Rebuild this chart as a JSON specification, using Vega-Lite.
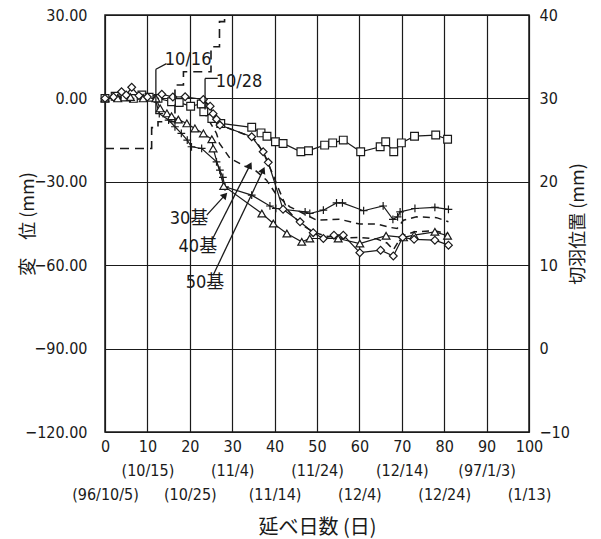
{
  "$schema": "https://vega.github.io/schema/vega-lite/v6.json",
  "width": 424,
  "height": 417,
  "autosize": {"type": "none"},
  "padding": {"left": 105, "top": 15, "right": 72, "bottom": 107},
  "background": "white",
  "config": {
    "view": {"stroke": "#1a1a1a", "strokeWidth": 1.5},
    "axis": {
      "labelFont": "DejaVu Sans Condensed, sans-serif",
      "labelFontSize": 16,
      "labelColor": "#1a1a1a",
      "titleColor": "#1a1a1a",
      "titleFont": "Noto Sans CJK JP",
      "titleFontWeight": "normal",
      "domain": false,
      "ticks": false,
      "gridColor": "#1a1a1a",
      "gridOpacity": 1,
      "gridWidth": 1.2
    }
  },
  "datasets": {
    "meas": [
      {"series":"S","day":0,"value":0},{"series":"S","day":2.4,"value":0.8},{"series":"S","day":4.7,"value":0.5},{"series":"S","day":6.7,"value":0},{"series":"S","day":8.7,"value":1.2},{"series":"S","day":10.4,"value":0.4},{"series":"S","day":12.5,"value":0},{"series":"S","day":15.7,"value":-1.2},{"series":"S","day":17.5,"value":-1.5},{"series":"S","day":20.2,"value":-2.8},{"series":"S","day":22.7,"value":-2},{"series":"S","day":23.3,"value":-4.8},{"series":"S","day":25.2,"value":-7.2},{"series":"S","day":27.3,"value":-9},{"series":"S","day":34.6,"value":-10.4},{"series":"S","day":36.8,"value":-12.4},{"series":"S","day":38.2,"value":-13.6},{"series":"S","day":40.2,"value":-15.6},{"series":"S","day":42,"value":-16.2},{"series":"S","day":46.2,"value":-19.2},{"series":"S","day":48,"value":-18.8},{"series":"S","day":51.8,"value":-16.8},{"series":"S","day":53.7,"value":-16},{"series":"S","day":56.2,"value":-15},{"series":"S","day":60.3,"value":-19.2},{"series":"S","day":64.9,"value":-17.4},{"series":"S","day":66.2,"value":-15.6},{"series":"S","day":68.1,"value":-19.2},{"series":"S","day":69.9,"value":-16},{"series":"S","day":73,"value":-13.6},{"series":"S","day":78,"value":-13.2},{"series":"S","day":80.8,"value":-14.7},
      {"series":"P","day":0,"value":0},{"series":"P","day":3,"value":0.3},{"series":"P","day":6,"value":0},{"series":"P","day":9,"value":0.3},{"series":"P","day":11.8,"value":0},{"series":"P","day":12.8,"value":-5.5},{"series":"P","day":15,"value":-7.8},{"series":"P","day":16.5,"value":-10.2},{"series":"P","day":18,"value":-12.6},{"series":"P","day":19.4,"value":-15},{"series":"P","day":20.4,"value":-17.4},{"series":"P","day":22.8,"value":-18},{"series":"P","day":26.3,"value":-22.8},{"series":"P","day":27.1,"value":-25.8},{"series":"P","day":27.8,"value":-28.4},{"series":"P","day":28.3,"value":-31.8},{"series":"P","day":34.6,"value":-34.8},{"series":"P","day":38.9,"value":-38.7},{"series":"P","day":40.3,"value":-39.6},{"series":"P","day":47.2,"value":-40.8},{"series":"P","day":48.3,"value":-41.4},{"series":"P","day":51.5,"value":-40.2},{"series":"P","day":54.6,"value":-37.6},{"series":"P","day":56,"value":-37.6},{"series":"P","day":61,"value":-40.4},{"series":"P","day":65.6,"value":-38.7},{"series":"P","day":67.9,"value":-43.5},{"series":"P","day":69,"value":-42.6},{"series":"P","day":69.6,"value":-40.8},{"series":"P","day":73.1,"value":-39.6},{"series":"P","day":77.8,"value":-39.2},{"series":"P","day":81,"value":-39.9},
      {"series":"T","day":0,"value":0},{"series":"T","day":3,"value":0},{"series":"T","day":6,"value":0.5},{"series":"T","day":9,"value":0},{"series":"T","day":12,"value":0},{"series":"T","day":13,"value":-3.6},{"series":"T","day":14.6,"value":-5.4},{"series":"T","day":15.7,"value":-6.4},{"series":"T","day":17.3,"value":-7.6},{"series":"T","day":19.3,"value":-9},{"series":"T","day":21.2,"value":-10.8},{"series":"T","day":23.2,"value":-12.6},{"series":"T","day":25.2,"value":-14.7},{"series":"T","day":25.5,"value":-18},{"series":"T","day":28,"value":-31.5},{"series":"T","day":37,"value":-41.4},{"series":"T","day":39.7,"value":-45},{"series":"T","day":42.9,"value":-48.6},{"series":"T","day":46.4,"value":-51.6},{"series":"T","day":48.3,"value":-50.4},{"series":"T","day":55,"value":-50.4},{"series":"T","day":60.1,"value":-52.2},{"series":"T","day":66.3,"value":-49.4},{"series":"T","day":70.4,"value":-50},{"series":"T","day":72.9,"value":-49.2},{"series":"T","day":77.8,"value":-48},{"series":"T","day":80.8,"value":-49.4},
      {"series":"D","day":0,"value":0},{"series":"D","day":2,"value":0.5},{"series":"D","day":3.9,"value":2.4},{"series":"D","day":5,"value":1.2},{"series":"D","day":6.3,"value":4},{"series":"D","day":8,"value":1},{"series":"D","day":10,"value":0.5},{"series":"D","day":13.4,"value":1.5},{"series":"D","day":16,"value":0.5},{"series":"D","day":18.9,"value":0.6},{"series":"D","day":23.2,"value":-0.4},{"series":"D","day":24.8,"value":-2.8},{"series":"D","day":25.5,"value":-5.5},{"series":"D","day":26.3,"value":-7.5},{"series":"D","day":27.1,"value":-9.6},{"series":"D","day":34.6,"value":-13.8},{"series":"D","day":37.3,"value":-19.2},{"series":"D","day":38.5,"value":-23},{"series":"D","day":42,"value":-39.9},{"series":"D","day":46,"value":-44.4},{"series":"D","day":49.1,"value":-48.3},{"series":"D","day":51.5,"value":-50.4},{"series":"D","day":54,"value":-49.2},{"series":"D","day":56.2,"value":-49.2},{"series":"D","day":60.1,"value":-55.5},{"series":"D","day":65,"value":-54.6},{"series":"D","day":68,"value":-56.7},{"series":"D","day":70.2,"value":-50},{"series":"D","day":72.9,"value":-50.7},{"series":"D","day":77.8,"value":-51},{"series":"D","day":81,"value":-52.8},
      {"series":"D1","day":22.5,"value":0},{"series":"D1","day":23.4,"value":-5},{"series":"D1","day":26.3,"value":-12.6},{"series":"D1","day":27,"value":-16.2},{"series":"D1","day":29.5,"value":-21.6},{"series":"D1","day":33,"value":-24.4},{"series":"D1","day":35.4,"value":-25.8},{"series":"D1","day":38.1,"value":-29.4},{"series":"D1","day":40.5,"value":-34.8},{"series":"D1","day":43.6,"value":-39},{"series":"D1","day":46.8,"value":-41.4},{"series":"D1","day":49.9,"value":-43.8},{"series":"D1","day":55.4,"value":-43.5},{"series":"D1","day":60.1,"value":-45.2},{"series":"D1","day":64.1,"value":-45.2},{"series":"D1","day":67.2,"value":-46.4},{"series":"D1","day":68.9,"value":-46.8},{"series":"D1","day":70.4,"value":-43.8},{"series":"D1","day":73.5,"value":-42.6},{"series":"D1","day":78.2,"value":-42.9},{"series":"D1","day":81,"value":-44.4},
      {"series":"D2","day":23.6,"value":-1},{"series":"D2","day":27,"value":-9.5},{"series":"D2","day":33,"value":-13},{"series":"D2","day":35.5,"value":-15},{"series":"D2","day":37.5,"value":-20},{"series":"D2","day":39.5,"value":-27},{"series":"D2","day":40.8,"value":-32},{"series":"D2","day":43,"value":-40},{"series":"D2","day":46,"value":-45},{"series":"D2","day":49,"value":-48},{"series":"D2","day":52,"value":-49.5},{"series":"D2","day":56,"value":-50.3},{"series":"D2","day":60,"value":-50},{"series":"D2","day":64,"value":-50.5},{"series":"D2","day":66.5,"value":-52},{"series":"D2","day":68,"value":-54.5},{"series":"D2","day":70,"value":-49.5},{"series":"D2","day":73,"value":-48},{"series":"D2","day":77.8,"value":-47.6},{"series":"D2","day":81,"value":-48.8}
    ],
    "face": [
      {"day":0,"value":24},{"day":11,"value":26.5},{"day":12.5,"value":27.2},{"day":16.5,"value":31.6},{"day":18.5,"value":33.2},{"day":25,"value":36.2},{"day":27,"value":39.2},{"day":28.2,"value":41}
    ],
    "notes": [
      {"day":19.6,"value":13.8,"label":"10/16"},
      {"day":31.6,"value":5.9,"label":"10/28"},
      {"day":19.8,"value":-43.5,"label":"30基"},
      {"day":21.9,"value":-53.5,"label":"40基"},
      {"day":23.6,"value":-66.5,"label":"50基"}
    ],
    "leaders": [
      {"day":14.5,"value":12.5,"day2":12,"value2":10.5},
      {"day":12,"value":10.5,"day2":12,"value2":-5.5},
      {"day":26.6,"value":7.2,"day2":23.6,"value2":7.2},
      {"day":23.6,"value":7.2,"day2":23.6,"value2":-4},
      {"day":24,"value":-42,"day2":28.3,"value2":-34.8},
      {"day":25.2,"value":-51,"day2":34.2,"value2":-24},
      {"day":25.5,"value":-63.6,"day2":37.3,"value2":-25.8}
    ]
  },
  "encoding": {
    "x": {
      "field": "day",
      "type": "quantitative",
      "scale": {"domain": [0, 100], "nice": false},
      "axis": {
        "values": [0, 10, 20, 30, 40, 50, 60, 70, 80, 90, 100],
        "grid": true,
        "labelPadding": 6,
        "labelBaseline": "top",
        "labelLineHeight": 24,
        "labelOverlap": false,
        "labelFlush": false,
        "labelBound": false,
        "labelExpr": "datum.value == 0 ? ['0', '\u2800', '(96/10/5)'] : datum.value == 10 ? ['10', '(10/15)', '\u2800'] : datum.value == 20 ? ['20', '\u2800', '(10/25)'] : datum.value == 30 ? ['30', '(11/4)', '\u2800'] : datum.value == 40 ? ['40', '\u2800', '(11/14)'] : datum.value == 50 ? ['50', '(11/24)', '\u2800'] : datum.value == 60 ? ['60', '\u2800', '(12/4)'] : datum.value == 70 ? ['70', '(12/14)', '\u2800'] : datum.value == 80 ? ['80', '\u2800', '(12/24)'] : datum.value == 90 ? ['90', '(97/1/3)', '\u2800'] : ['100', '\u2800', '(1/13)']",
        "title": "延べ日数 (日)",
        "titleFontSize": 20,
        "titlePadding": 15
      }
    }
  },
  "layer": [
    {
      "encoding": {
        "y": {
          "field": "value",
          "type": "quantitative",
          "scale": {"domain": [-120, 30], "nice": false, "zero": false},
          "axis": {
            "orient": "left",
            "values": [-120, -90, -60, -30, 0, 30],
            "format": ".2f",
            "grid": true,
            "labelPadding": 18,
            "title": "変　位 (mm)",
            "titleFontSize": 18,
            "titleX": -77,
            "titleBaseline": "middle"
          }
        }
      },
      "layer": [
        {
          "data": {"name": "meas"},
          "transform": [{"filter": "indexof(['S','P','T','D'], datum.series) >= 0"}],
          "mark": {"type": "line", "color": "#1a1a1a", "strokeWidth": 1.2},
          "encoding": {"detail": {"field": "series"}}
        },
        {
          "data": {"name": "meas"},
          "transform": [{"filter": "indexof(['D1','D2'], datum.series) >= 0"}],
          "mark": {"type": "line", "color": "#1a1a1a", "strokeWidth": 1.5, "strokeDash": [7, 5]},
          "encoding": {"detail": {"field": "series"}}
        },
        {
          "data": {"name": "meas"},
          "transform": [{"filter": "indexof(['S','P','T','D'], datum.series) >= 0"}],
          "mark": {"type": "point", "filled": true, "fill": "white", "stroke": "#1a1a1a", "strokeWidth": 1.2, "size": 60, "opacity": 1},
          "encoding": {
            "shape": {
              "field": "series",
              "type": "nominal",
              "scale": {"domain": ["S", "P", "T", "D"], "range": ["square", "M-1,0L1,0M0,-1L0,1", "triangle-up", "diamond"]},
              "legend": null
            }
          }
        },
        {
          "data": {"name": "leaders"},
          "mark": {"type": "rule", "color": "#1a1a1a", "strokeWidth": 1.3},
          "encoding": {"x2": {"field": "day2"}, "y2": {"field": "value2"}}
        },
        {
          "data": {"values": [{"day": 28.3, "value": -34.8}]},
          "mark": {"type": "point", "shape": "triangle-up", "filled": true, "color": "#1a1a1a", "size": 60, "angle": 42, "opacity": 1}
        },
        {
          "data": {"values": [{"day": 34.2, "value": -24}]},
          "mark": {"type": "point", "shape": "triangle-up", "filled": true, "color": "#1a1a1a", "size": 60, "angle": 27, "opacity": 1}
        },
        {
          "data": {"values": [{"day": 37.3, "value": -25.8}]},
          "mark": {"type": "point", "shape": "triangle-up", "filled": true, "color": "#1a1a1a", "size": 60, "angle": 25, "opacity": 1}
        },
        {
          "data": {"name": "notes"},
          "mark": {"type": "text", "font": "DejaVu Sans Condensed, Noto Sans CJK JP", "fontSize": 18, "color": "#1a1a1a", "align": "center", "baseline": "middle"},
          "encoding": {"text": {"field": "label"}}
        }
      ]
    },
    {
      "data": {"name": "face"},
      "mark": {"type": "line", "interpolate": "step-after", "color": "#1a1a1a", "strokeWidth": 1.6, "strokeDash": [9, 6], "clip": true},
      "encoding": {
        "y": {
          "field": "value",
          "type": "quantitative",
          "scale": {"domain": [-10, 40], "nice": false, "zero": false},
          "axis": {
            "orient": "right",
            "values": [-10, 0, 10, 20, 30, 40],
            "format": "d",
            "grid": false,
            "labelPadding": 10,
            "title": "切羽位置 (mm)",
            "titleAngle": -90,
            "titleFontSize": 18,
            "titlePadding": 18
          }
        }
      }
    }
  ],
  "resolve": {"scale": {"y": "independent"}}
}
